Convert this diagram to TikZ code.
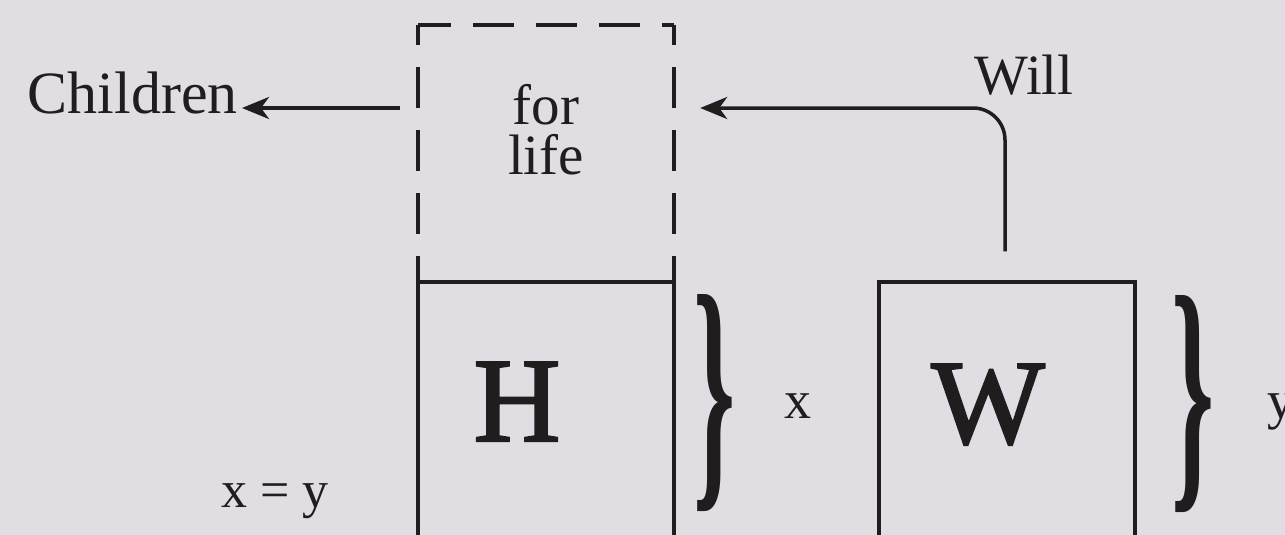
\documentclass[tikz,border=0pt]{standalone}
\usepackage{fontspec}
\setmainfont{Liberation Serif}
\newfontfamily\heavyserif[FakeBold=2]{Liberation Serif}
\usepackage{graphicx}
\usetikzlibrary{arrows.meta,calc}
\definecolor{bg}{RGB}{225,222,227}
\definecolor{ink}{RGB}{32,29,31}
\tikzset{
  boxnode/.style={draw=ink, line width=3.5pt, minimum width=256pt, minimum height=280pt, inner sep=0pt},
  ghost/.style={minimum width=256pt, minimum height=257pt, inner sep=0pt},
  lbl/.style={text=ink, inner sep=0pt, font=\fontsize{57}{50}\selectfont},
  small/.style={text=ink, inner sep=0pt, font=\fontsize{54}{54}\selectfont},
  big/.style={text=ink, inner sep=0pt, font=\heavyserif\fontsize{120}{120}\selectfont},
  conn/.style={draw=ink, line width=3.5pt, -{Stealth[length=27pt,width=22pt,inset=8pt]}},
  dashline/.style={draw=ink, line width=3.5pt, dash pattern=on 41pt off 22pt},
  bracenode/.style={text=ink, inner sep=0pt}
}
\begin{document}
\begin{tikzpicture}[x=1pt,y=-1pt]
\path[use as bounding box, fill=bg] (0,0) rectangle (1285,535);
\clip (0,0) rectangle (1285,535);
% boxes
\node[boxnode] (H) at (546,422) {};
\node[boxnode] (W) at (1007,422) {};
\node[ghost] (life) at (546,153.5) {};
\draw[dashline, dash phase=21pt] (life.north west) -- (life.south west);
\draw[dashline, dash phase=8pt] (life.north west) -- (life.north east);
\draw[dashline, dash phase=21pt] (life.north east) -- (life.south east);
% letters
\node[big, anchor=base] (Hl) at (517,441) {H};
\node[big, anchor=base] (Wl) at (988,443) {W};
% labels
\node[lbl, align=center] (forlife) at (546,130) {for\\life};
\node[lbl, font=\fontsize{60}{60}\selectfont, anchor=base east] (children) at (238,113) {Children};
\node[lbl, anchor=base] (will) at (1024,95) {Will};
\node[small, anchor=base] (xl) at (798,418) {x};
\node[small, anchor=base west] (yl) at (1267,418) {y};
\node[small, anchor=base west, font=\fontsize{52}{52}\selectfont] (xy) at (221,507) {x = y};
% braces
\node[bracenode] (b1) at (715,403) {\resizebox{42pt}{182pt}{\bfseries\}}};
\node[bracenode] (b2) at (1193,404) {\resizebox{43pt}{182pt}{\bfseries\}}};
% connectors
\coordinate (wstart) at ($(W.north)+(-2,-29)$);
\draw[conn] ([xshift=-18pt]life.west |- 0,108) -- ([xshift=4pt]children.east |- 0,108);
\draw[conn, rounded corners=32pt] (wstart) |- ([xshift=26pt]life.east |- 0,108);
\end{tikzpicture}
\end{document}
